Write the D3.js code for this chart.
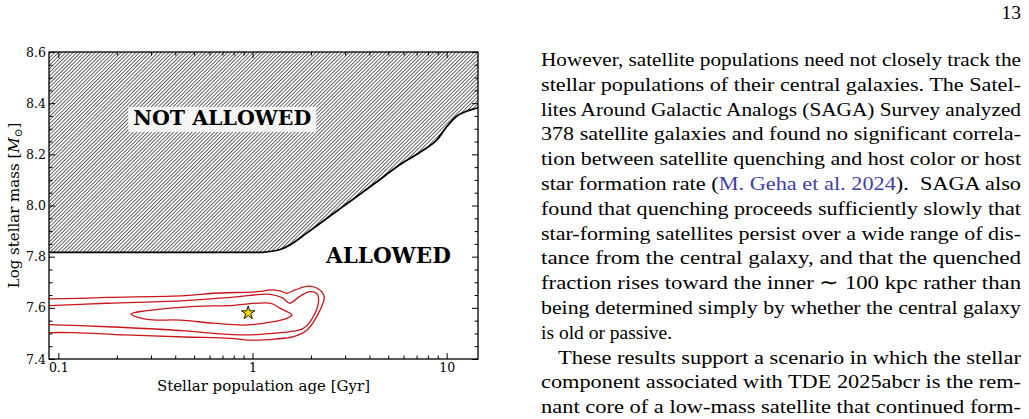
<!DOCTYPE html>
<html><head><meta charset="utf-8">
<script src="https://cdn.jsdelivr.net/npm/d3@7"></script>
<style>
html,body{margin:0;padding:0;background:#fff;}
svg{display:block;}
.serif{font-family:"DejaVu Serif", serif;}
</style>
</head><body>
<svg id="fig" width="1029" height="419"></svg>
<script>
// ---------- data ----------
const xLimits = [0.0895, 14.5];
const yLimits = [7.4, 8.6];
const xTickMajor = [0.1, 1, 10];
const xTickLabels = ["0.1", "1", "10"];
const xTickMinor = [0.2,0.3,0.4,0.5,0.6,0.7,0.8,0.9,2,3,4,5,6,7,8,9];
const yTickMajor = [7.4, 7.6, 7.8, 8.0, 8.2, 8.4, 8.6];
const yTickLabels = ["7.4","7.6","7.8","8.0","8.2","8.4","8.6"];
const yTickMinor = [7.45,7.5,7.55,7.65,7.7,7.75,7.85,7.9,7.95,8.05,8.1,8.15,8.25,8.3,8.35,8.45,8.5,8.55];

// boundary of the "NOT ALLOWED" region
const boundaryAge  = [0.0895, 1.10, 1.16, 1.39, 1.56, 1.91, 2.83, 4.20, 5.76, 7.60, 8.90, 10.0, 11.3, 12.7, 14.5];
const boundaryMass = [7.817, 7.817, 7.818, 7.828, 7.846, 7.893, 7.988, 8.083, 8.160, 8.217, 8.256, 8.308, 8.350, 8.369, 8.382];

// posterior contours
const outerAge  = [0.08, 0.125, 0.178, 0.45, 0.63, 1.10, 1.23, 1.40, 1.50, 1.66, 1.94, 2.20, 2.34, 2.23, 1.91, 1.63, 1.30, 0.94, 0.77, 0.45, 0.22, 0.12, 0.08];
const outerMass = [7.635, 7.637, 7.641, 7.648, 7.657, 7.664, 7.670, 7.665, 7.657, 7.670, 7.685, 7.672, 7.644, 7.592, 7.513, 7.487, 7.478, 7.474, 7.481, 7.486, 7.494, 7.503, 7.503];
const middleAge  = [0.08, 0.178, 0.45, 0.80, 1.23, 1.42, 1.56, 1.75, 1.98, 2.15, 2.19, 2.10, 1.83, 1.56, 1.20, 0.94, 0.63, 0.45, 0.178, 0.08];
const middleMass = [7.607, 7.618, 7.628, 7.642, 7.653, 7.640, 7.618, 7.645, 7.663, 7.655, 7.637, 7.579, 7.520, 7.507, 7.499, 7.494, 7.500, 7.510, 7.526, 7.536];
const innerAge  = [0.2365, 0.2859, 0.45, 0.80, 1.233, 1.389, 1.596, 1.503, 0.936, 0.63, 0.424, 0.2859];
const innerMass = [7.576, 7.589, 7.603, 7.610, 7.618, 7.598, 7.572, 7.559, 7.533, 7.540, 7.552, 7.555];

const starAge = [0.95];
const starMass = [7.58];

const regionLabels = ["NOT ALLOWED", "ALLOWED"];
const regionAge  = [0.698, 5.01];
const regionMass = [8.315, 7.775];

const xAxisTitle = "Stellar population age [Gyr]";
const pageNumber = "13";
const textLines = [
  ["However, satellite populations need not closely track the"],
  ["stellar populations of their central galaxies. The Satel-"],
  ["lites Around Galactic Analogs (SAGA) Survey analyzed"],
  ["378 satellite galaxies and found no significant correla-"],
  ["tion between satellite quenching and host color or host"],
  ["star formation rate (", "M. Geha et al. 2024", ").  SAGA also"],
  ["found that quenching proceeds sufficiently slowly that"],
  ["star-forming satellites persist over a wide range of dis-"],
  ["tance from the central galaxy, and that the quenched"],
  ["fraction rises toward the inner \u223C 100 kpc rather than"],
  ["being determined simply by whether the central galaxy"],
  ["is old or passive."],
  ["These results support a scenario in which the stellar"],
  ["component associated with TDE 2025abcr is the rem-"],
  ["nant core of a low-mass satellite that continued form-"]
];
const justified = [1,1,1,1,1,1,1,1,1,1,1,0,1,1,1];
const indented  = [0,0,0,0,0,0,0,0,0,0,0,0,1,0,0];

// ---------- layout ----------
const L = 49, R = 478, T = 52, B = 359;
const svg = d3.select("#fig");

const x = d3.scaleLog().domain(xLimits).range([L, R]);
const y = d3.scaleLinear().domain(yLimits).range([B, T]);

const defs = svg.append("defs");
defs.append("clipPath").attr("id","plotclip")
  .append("rect").attr("x",L).attr("y",T).attr("width",R-L).attr("height",B-T);
const pat = defs.append("pattern").attr("id","hatch")
  .attr("patternUnits","userSpaceOnUse")
  .attr("width",2.6).attr("height",10)
  .attr("patternTransform","rotate(45)");
pat.append("rect").attr("width",2.6).attr("height",10).attr("fill","#fff");
pat.append("line").attr("x1",0.5).attr("y1",0).attr("x2",0.5).attr("y2",10)
  .attr("stroke","#222").attr("stroke-width",0.75);

const plot = svg.append("g").attr("clip-path","url(#plotclip)");

// hatched region
const bnd = boundaryAge.map((a,i)=>({a, m: boundaryMass[i]}));
plot.append("path").datum(bnd)
  .attr("d", d3.area().x(d=>x(d.a)).y0(y(yLimits[1])).y1(d=>y(d.m)).curve(d3.curveMonotoneX))
  .attr("fill","url(#hatch)");
plot.append("path").datum(bnd)
  .attr("d", d3.line().x(d=>x(d.a)).y(d=>y(d.m)).curve(d3.curveMonotoneX))
  .attr("fill","none").attr("stroke","#000").attr("stroke-width",1.8);

// contours
const contourColor = "#c8161b";
function contour(ages, masses, closed){
  const pts = ages.map((a,i)=>[x(a), y(masses[i])]);
  plot.append("path")
    .attr("d", d3.line().curve(closed ? d3.curveCatmullRomClosed : d3.curveCatmullRom)(pts))
    .attr("fill","none").attr("stroke",contourColor).attr("stroke-width",1.3);
}
contour(outerAge, outerMass, false);
contour(middleAge, middleMass, false);
contour(innerAge, innerMass, true);

// star
plot.selectAll("path.star").data(starAge).enter().append("path")
  .attr("class","star")
  .attr("transform",(d,i)=>`translate(${x(d)},${y(starMass[i])})`)
  .attr("d", d3.symbol(d3.symbolStar).size(55))
  .attr("fill","#FFD700").attr("stroke","#000").attr("stroke-width",0.9);

// region labels
regionLabels.forEach((t,i)=>{
  const g = svg.append("g");
  const txt = g.append("text").attr("class","serif")
    .attr("x", x(regionAge[i])).attr("y", y(regionMass[i]))
    .attr("text-anchor","middle")
    .attr("font-weight","bold").attr("font-size", i === 0 ? 20.5 : 21.5)
    .attr("fill","#000").text(t);
  if (i === 0) {
    const bb = txt.node().getBBox();
    g.insert("rect","text")
      .attr("x", bb.x-5).attr("y", bb.y+1).attr("width", bb.width+10).attr("height", bb.height+1)
      .attr("fill","#fff").attr("fill-opacity",0.85);
  }
});

// axes (ticks inward on all four sides)
function styleAxis(g){
  g.select(".domain").remove();
  g.attr("font-family",null);
  g.selectAll(".tick line").attr("stroke","#000").attr("stroke-width",1);
  g.selectAll(".tick text").attr("class","serif").attr("font-size",12.5).attr("fill","#000");
}
const fmtX = d => xTickLabels[xTickMajor.indexOf(d)];
const fmtY = d => yTickLabels[yTickMajor.findIndex(v=>Math.abs(v-d)<1e-9)];

svg.append("g").attr("transform",`translate(0,${B})`)
  .call(d3.axisBottom(x).tickValues(xTickMajor).tickSize(-6).tickPadding(4).tickFormat(fmtX)).call(styleAxis);
svg.append("g").attr("transform",`translate(0,${B})`)
  .call(d3.axisBottom(x).tickValues(xTickMinor).tickSize(-3.5).tickFormat("")).call(styleAxis);
svg.append("g").attr("transform",`translate(0,${T})`)
  .call(d3.axisTop(x).tickValues(xTickMajor).tickSize(-6).tickFormat("")).call(styleAxis);
svg.append("g").attr("transform",`translate(0,${T})`)
  .call(d3.axisTop(x).tickValues(xTickMinor).tickSize(-3.5).tickFormat("")).call(styleAxis);
svg.append("g").attr("transform",`translate(${L},0)`)
  .call(d3.axisLeft(y).tickValues(yTickMajor).tickSize(-6).tickPadding(3).tickFormat(fmtY)).call(styleAxis);
svg.append("g").attr("transform",`translate(${L},0)`)
  .call(d3.axisLeft(y).tickValues(yTickMinor).tickSize(-3.5).tickFormat("")).call(styleAxis);
svg.append("g").attr("transform",`translate(${R},0)`)
  .call(d3.axisRight(y).tickValues(yTickMajor).tickSize(-6).tickFormat("")).call(styleAxis);
svg.append("g").attr("transform",`translate(${R},0)`)
  .call(d3.axisRight(y).tickValues(yTickMinor).tickSize(-3.5).tickFormat("")).call(styleAxis);

// frame
svg.append("rect").attr("x",L).attr("y",T).attr("width",R-L).attr("height",B-T)
  .attr("fill","none").attr("stroke","#000").attr("stroke-width",1.3);

// axis titles
svg.append("text").attr("class","serif").attr("x",(L+R)/2).attr("y",391)
  .attr("text-anchor","middle").attr("font-size",15)
  .attr("fill","#000").text(xAxisTitle);
const yt = svg.append("text").attr("class","serif")
  .attr("transform",`translate(19,${(T+B)/2}) rotate(-90)`)
  .attr("text-anchor","middle").attr("font-size",15).attr("fill","#000");
yt.append("tspan").text("Log stellar mass [");
yt.append("tspan").attr("font-style","italic").text("M");
yt.append("tspan").attr("font-size",10.5).attr("dy",3).text("\u2299");
yt.append("tspan").attr("dy",-3).text("]");

// ---------- body text ----------
// pick a serif face that is really installed
function hasFont(name){
  const c = document.createElement("canvas").getContext("2d");
  const s = "However, satellite populations 0123456789";
  c.font = "20px monospace"; const w0 = c.measureText(s).width;
  c.font = `20px "${name}", monospace`; const w1 = c.measureText(s).width;
  return Math.abs(w0 - w1) > 0.5;
}
let bodyFont = "DejaVu Serif", tSize = 16.5;
if (hasFont("Liberation Serif")) { bodyFont = "Liberation Serif"; tSize = 19.5; }

const textLeft = 541, textRight = 1021, indent = 17, firstBase = 66, lead = 24.8;
svg.append("text").attr("x",textRight).attr("y",19).attr("text-anchor","end")
  .style("font-family",`"${bodyFont}", serif`)
  .attr("font-size",tSize).attr("fill","#000").text(pageNumber);
textLines.forEach((parts,i)=>{
  const x0 = textLeft + (indented[i] ? indent : 0);
  const t = svg.append("text").attr("x",x0).attr("y",firstBase + i*lead)
    .style("font-family",`"${bodyFont}", serif`)
    .attr("font-size",tSize).attr("fill","#000").attr("xml:space","preserve");
  parts.forEach((p,j)=>{
    const ts = t.append("tspan").text(p);
    if (parts.length === 3 && j === 1) ts.attr("fill","#3f3fa8");
  });
  if (justified[i]) t.attr("textLength", textRight - x0).attr("lengthAdjust","spacingAndGlyphs");
});
</script>
</body></html>
